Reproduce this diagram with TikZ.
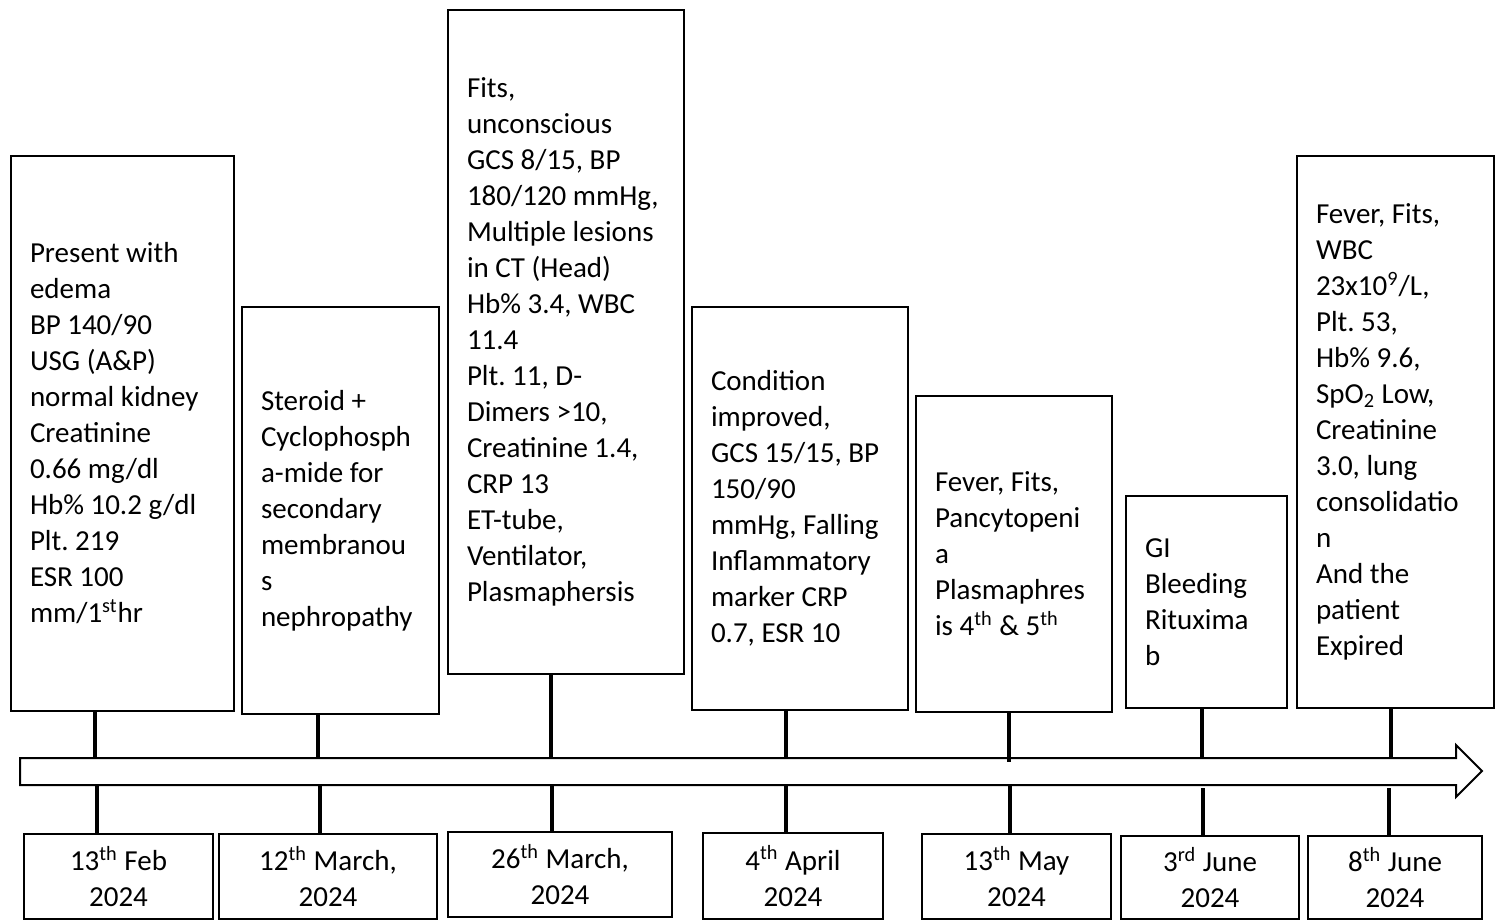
\documentclass[tikz,border=0pt]{standalone}
\usepackage{fontspec}
\setmainfont{Carlito}
\usepackage{tikz}
\usetikzlibrary{positioning}
\frenchspacing
\tikzstyle{evento} = [draw=black, line width=1pt, rectangle, anchor=north west, align=flush left, inner xsep=9.5pt, inner ysep=0pt, font=\fontsize{14.5}{18}\selectfont]
\tikzstyle{fecha} = [draw=black, line width=1pt, rectangle, anchor=north west, align=center, inner sep=0pt, font=\fontsize{14.5}{18}\selectfont]
\tikzstyle{enlace} = [line width=1.6pt]

\begin{document}
\begin{tikzpicture}[x=0.5pt, y=-0.5pt]
	\useasboundingbox (0,0) rectangle (1499,920);
	% eventos
	\node[evento, text width=92.5pt, minimum height=277.5pt] (ev1) at (10,155) {Present with\\ edema\\ BP 140/90\\ USG (A\&P)\\ normal kidney\\ Creatinine\\ 0.66 mg/dl\\ Hb\% 10.2 g/dl\\ Plt. 219\\ ESR 100\\ mm/1\textsuperscript{st}hr};
	\node[evento, text width=79.5pt, minimum height=203.5pt] (ev2) at (241,306) {Steroid +\\ Cyclophosph\\ a-mide for\\ secondary\\ membranou\\ s\\ nephropathy};
	\node[evento, text width=99pt, minimum height=332pt] (ev3) at (447,9) {Fits,\\ unconscious\\ GCS 8/15, BP\\ 180/120 mmHg,\\ Multiple lesions\\ in CT (Head)\\ Hb\% 3.4, WBC\\ 11.4\\ Plt. 11, D-\\ Dimers >10,\\ Creatinine 1.4,\\ CRP 13\\ ET-tube,\\ Ventilator,\\ Plasmaphersis};
	\node[evento, text width=89pt, minimum height=201.5pt] (ev4) at (691,306) {Condition\\ improved,\\ GCS 15/15, BP\\ 150/90\\ mmHg, Falling\\ Inflammatory\\ marker CRP\\ 0.7, ESR 10};
	\node[evento, text width=79pt, minimum height=158pt] (ev5) at (915,395) {Fever, Fits,\\ Pancytopeni\\ a\\ Plasmaphres\\ is 4\textsuperscript{th} \& 5\textsuperscript{th}};
	\node[evento, text width=61.5pt, minimum height=106pt] (ev6) at (1125,495) {GI\\ Bleeding\\ Rituxima\\ b};
	\node[evento, text width=79.5pt, minimum height=276pt] (ev7) at (1296,155) {Fever, Fits,\\ WBC\\ 23x10\textsuperscript{9}/L,\\ Plt. 53,\\ Hb\% 9.6,\\ SpO\textsubscript{2} Low,\\ Creatinine\\ 3.0, lung\\ consolidatio\\ n\\ And the\\ patient\\ Expired};
	% fechas
	\node[fecha, minimum width=94.5pt, minimum height=42.5pt] (fe1) at (23,833) {13\textsuperscript{th} Feb\\ 2024};
	\node[fecha, minimum width=109pt, minimum height=42.5pt] (fe2) at (218,833) {12\textsuperscript{th} March,\\ 2024};
	\node[fecha, minimum width=112pt, minimum height=42.5pt] (fe3) at (447,831) {26\textsuperscript{th} March,\\ 2024};
	\node[fecha, minimum width=90pt, minimum height=43pt] (fe4) at (702,832) {4\textsuperscript{th} April\\ 2024};
	\node[fecha, minimum width=94.5pt, minimum height=42.5pt] (fe5) at (921,833) {13\textsuperscript{th} May\\ 2024};
	\node[fecha, minimum width=89pt, minimum height=41.5pt] (fe6) at (1120,835) {3\textsuperscript{rd} June\\ 2024};
	\node[fecha, minimum width=87pt, minimum height=41.5pt] (fe7) at (1307,835) {8\textsuperscript{th} June\\ 2024};
	% eje del tiempo
	\draw[line width=1pt] (20,758) -- (1456,758) -- (1456,745) -- (1482,771) -- (1456,797) -- (1456,785) -- (20,785) -- cycle;
	\coordinate (a1) at (95,758);   \coordinate (b1) at (97,785);
	\coordinate (a2) at (318,758);  \coordinate (b2) at (320,785);
	\coordinate (a3) at (551,758);  \coordinate (b3) at (552,785);
	\coordinate (a4) at (786,758);  \coordinate (b4) at (786,785);
	\coordinate (a5) at (1009,758); \coordinate (b5) at (1010,785);
	\coordinate (a6) at (1202,758); \coordinate (b6) at (1203,788);
	\coordinate (a7) at (1391,758); \coordinate (b7) at (1389,788);
	\draw[enlace] (a1 |- ev1.south) -- (a1);
	\draw[enlace] (a2 |- ev2.south) -- (a2);
	\draw[enlace] (a3 |- ev3.south) -- (a3);
	\draw[enlace] (a4 |- ev4.south) -- (a4);
	\draw[enlace] (a5 |- ev5.south) -- (1009,762);
	\draw[enlace] (a6 |- ev6.south) -- (a6);
	\draw[enlace] (a7 |- ev7.south) -- (a7);
	\draw[enlace] (b1) -- (b1 |- fe1.north);
	\draw[enlace] (b2) -- (b2 |- fe2.north);
	\draw[enlace] (b3) -- (b3 |- fe3.north);
	\draw[enlace] (b4) -- (b4 |- fe4.north);
	\draw[enlace] (b5) -- (b5 |- fe5.north);
	\draw[enlace] (b6) -- (b6 |- fe6.north);
	\draw[enlace] (b7) -- (b7 |- fe7.north);
\end{tikzpicture}
\end{document}
